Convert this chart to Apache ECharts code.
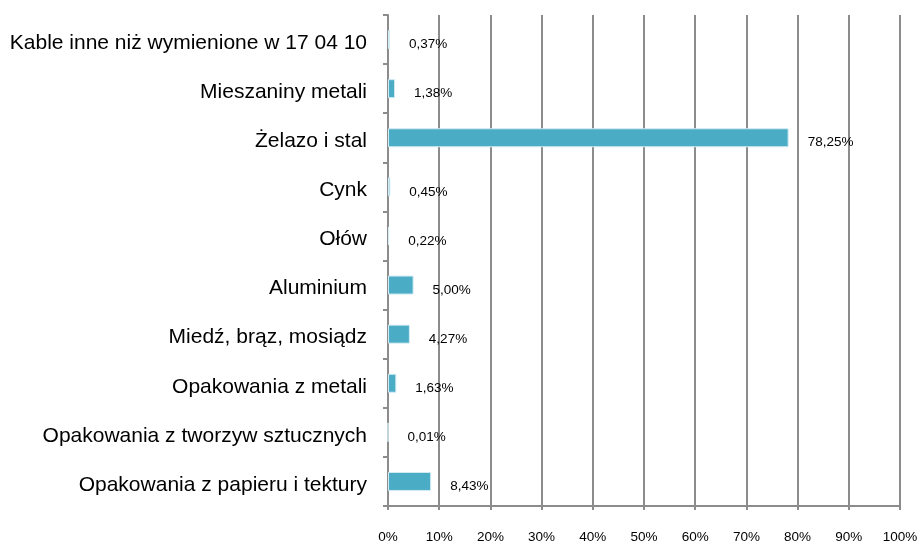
<!DOCTYPE html>
<html>
<head>
<meta charset="utf-8">
<script src="https://cdn.jsdelivr.net/npm/echarts@6/dist/echarts.min.js"></script>
<style>
  html, body { margin: 0; padding: 0; background: #fff; }
  #chart { width: 919px; height: 542px; }
</style>
</head>
<body>
<div id="chart"></div>
<script>
// kategorie od góry do dołu
const categories = [
  'Kable inne niż wymienione w 17 04 10',
  'Mieszaniny metali',
  'Żelazo i stal',
  'Cynk',
  'Ołów',
  'Aluminium',
  'Miedź, brąz, mosiądz',
  'Opakowania z metali',
  'Opakowania z tworzyw sztucznych',
  'Opakowania z papieru i tektury'
];
const shares = [0.37, 1.38, 78.25, 0.45, 0.22, 5.00, 4.27, 1.63, 0.01, 8.43];
const xTicks = [0, 10, 20, 30, 40, 50, 60, 70, 80, 90, 100];

const gray = '#8c8c8c';
const font = '"Liberation Sans", Arial, sans-serif';

const chart = echarts.init(document.getElementById('chart'));

chart.setOption({
  animation: false,
  grid: {
    left: 388,
    right: 19,
    top: 15,
    bottom: 36,
    outerBoundsMode: 'none'
  },
  xAxis: {
    type: 'value',
    min: xTicks[0],
    max: xTicks[xTicks.length - 1],
    interval: 10,
    axisLine: { show: true, lineStyle: { color: gray, width: 2 } },
    axisTick: { show: true, length: 4, lineStyle: { color: gray, width: 2 } },
    axisLabel: {
      margin: 24,
      color: '#000',
      fontFamily: font,
      fontSize: 13.5,
      formatter: v => v + '%'
    },
    splitLine: { show: true, lineStyle: { color: gray, width: 2 } }
  },
  yAxis: {
    type: 'category',
    inverse: true,
    data: categories,
    axisLine: { show: true, lineStyle: { color: gray, width: 2 } },
    axisTick: { show: true, length: 5, lineStyle: { color: gray, width: 2 } },
    axisLabel: {
      margin: 21,
      color: '#000',
      fontFamily: font,
      fontSize: 21,
      verticalAlign: 'top',
      lineHeight: 7
    }
  },
  series: [
    {
      type: 'bar',
      data: shares,
      barWidth: 19,
      itemStyle: {
        color: '#4bacc6',
        borderColor: '#d3ecf3',
        borderWidth: 1
      },
      label: {
        show: true,
        position: 'right',
        distance: 19,
        offset: [0, 5],
        color: '#000',
        fontFamily: font,
        fontSize: 13.5,
        formatter: p => p.value.toFixed(2).replace('.', ',') + '%'
      }
    }
  ]
});
</script>
</body>
</html>
